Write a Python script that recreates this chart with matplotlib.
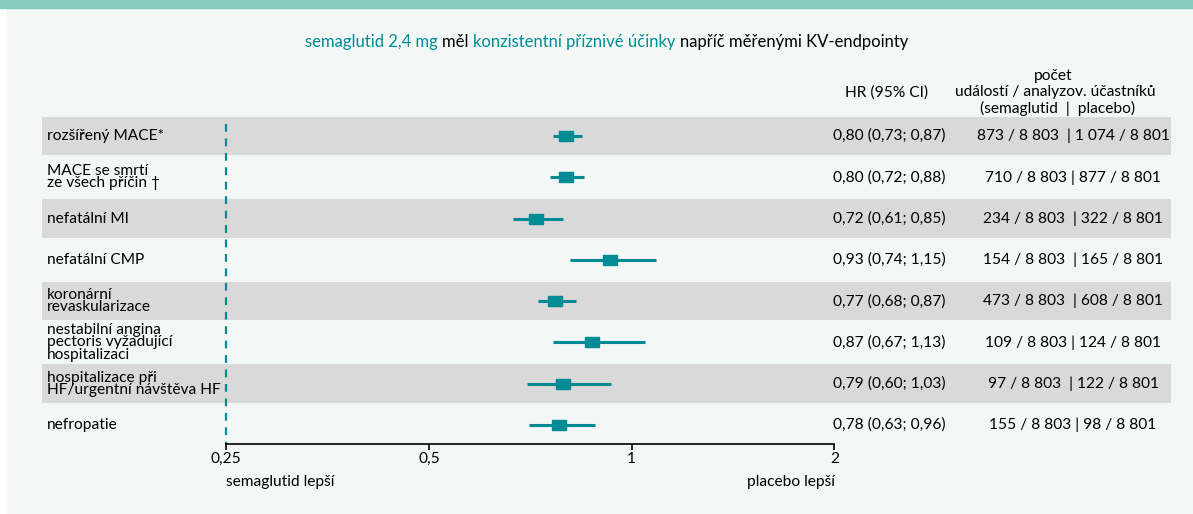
import matplotlib
matplotlib.use("Agg")
import matplotlib.pyplot as plt
import matplotlib.transforms as mtransforms
from matplotlib.patches import Rectangle

plt.rcParams['font.family'] = ['Lato', 'DejaVu Sans']

# data
labels = ["rozšířený MACE*", "MACE se smrtí\nze všech příčin †", "nefatální MI",
          "nefatální CMP", "koronární\nrevaskularizace",
          "nestabilní angina\npectoris vyžadující\nhospitalizaci",
          "hospitalizace při\nHF/urgentní návštěva HF", "nefropatie"]
# positions as drawn in the picture
hr = [0.80, 0.80, 0.72, 0.93, 0.77, 0.874, 0.79, 0.78]
ci_lo = [0.763, 0.757, 0.666, 0.81, 0.726, 0.763, 0.698, 0.705]
ci_hi = [0.843, 0.849, 0.79, 1.086, 0.826, 1.047, 0.933, 0.883]
hr_text = ["0,80 (0,73; 0,87)", "0,80 (0,72; 0,88)", "0,72 (0,61; 0,85)",
           "0,93 (0,74; 1,15)", "0,77 (0,68; 0,87)", "0,87 (0,67; 1,13)",
           "0,79 (0,60; 1,03)", "0,78 (0,63; 0,96)"]
events = ["873 / 8 803  | 1 074 / 8 801", "710 / 8 803 | 877 / 8 801",
          "234 / 8 803  | 322 / 8 801", "154 / 8 803  | 165 / 8 801",
          "473 / 8 803  | 608 / 8 801", "109 / 8 803 | 124 / 8 801",
          "97 / 8 803  | 122 / 8 801", "155 / 8 803 | 98 / 8 801"]
ticks = [0.25, 0.5, 1, 2]
tick_labels = ["0,25", "0,5", "1", "2"]

teal = "#008b95"
W, H = 1193, 514
fs = 11.2

def fx(px):
    return px / W

def fy(py):
    return 1 - py / H

fig = plt.figure(figsize=(W / 100, H / 100), dpi=100)
fig.patch.set_facecolor("white")
fig.add_artist(Rectangle((fx(7), 0), 1, 1, transform=fig.transFigure,
                         color="#f3f7f6", zorder=-2))
fig.add_artist(Rectangle((0, fy(7.5)), 1, 7.5 / H, transform=fig.transFigure,
                         color="#85cabd", zorder=-1))

# forest axes, log2 scale: 1 -> 631.7px, 202.7px per doubling
ax = fig.add_axes([fx(42), fy(444), (1171 - 42) / W, (444 - 116) / H])
ax.set_xscale("log", base=2)
ax.set_xlim(2 ** ((42 - 631.7) / 202.7), 2 ** ((1171 - 631.7) / 202.7))
ax.set_ylim(7.463, -0.485)
ax.patch.set_alpha(0)
for s in ["left", "top", "right"]:
    ax.spines[s].set_visible(False)
ax.spines["bottom"].set_bounds(0.25, 2)
ax.spines["bottom"].set_linewidth(1.2)
ax.set_xticks(ticks)
ax.set_xticklabels(tick_labels, fontsize=fs)
ax.minorticks_off()
ax.tick_params(axis="x", length=4, width=1.2, pad=2)
ax.set_yticks([])

n = len(labels)
for i in range(0, n, 2):
    ax.axhspan(i - 0.47, i + 0.47, color="#d9d9d9", zorder=0, lw=0)

ax.vlines(0.25, -0.29, 7.463, color=teal, lw=1.6, linestyles=(0, (3.5, 3)), zorder=2)

rows = list(range(n))
ax.hlines(rows, ci_lo, ci_hi, color=teal, lw=2.2, zorder=3)
rect = [(-1.3, -1), (1.3, -1), (1.3, 1), (-1.3, 1), (-1.3, -1)]
ax.plot(hr, rows, ls="none", marker=rect, ms=9.4, color=teal, zorder=4)

# row texts
bt = mtransforms.blended_transform_factory(fig.transFigure, ax.transData)
for i in range(n):
    ax.text(fx(47), i, labels[i], transform=bt, ha="left", va="center",
            fontsize=fs, linespacing=0.84)
    ax.text(fx(833), i, hr_text[i], transform=bt, ha="left", va="center", fontsize=fs)
    ax.text(fx(1073), i, events[i], transform=bt, ha="center", va="center", fontsize=fs)

# headers
fig.text(fx(928), fy(93), "HR (95% CI)", ha="right", va="center", fontsize=fs)
fig.text(fx(1053), fy(76), "počet", ha="center", va="center", fontsize=fs)
fig.text(fx(1055), fy(92), "událostí / analyzov. účastníků", ha="center", va="center", fontsize=fs)
fig.text(fx(1058), fy(108), "(semaglutid  |  placebo)", ha="center", va="center", fontsize=fs)

fig.text(fx(226), fy(482), "semaglutid lepší", ha="left", va="center", fontsize=fs)
fig.text(fx(835), fy(482), "placebo lepší", ha="right", va="center", fontsize=fs)

# title in colored pieces
pieces = [("semaglutid 2,4 mg ", teal), ("měl ", "black"),
          ("konzistentní příznivé účinky ", teal), ("napříč měřenými KV-endpointy", "black")]
r = fig.canvas.get_renderer()
objs = []
for txt, col in pieces:
    t = fig.text(0, fy(42), txt, color=col, ha="left", va="center", fontsize=11.95)
    objs.append(t)
total = sum(t.get_window_extent(r).width for t in objs)
x = 606.5 - total / 2
for t in objs:
    t.set_x(fx(x))
    x += t.get_window_extent(r).width

fig.savefig("out.png", dpi=100)
